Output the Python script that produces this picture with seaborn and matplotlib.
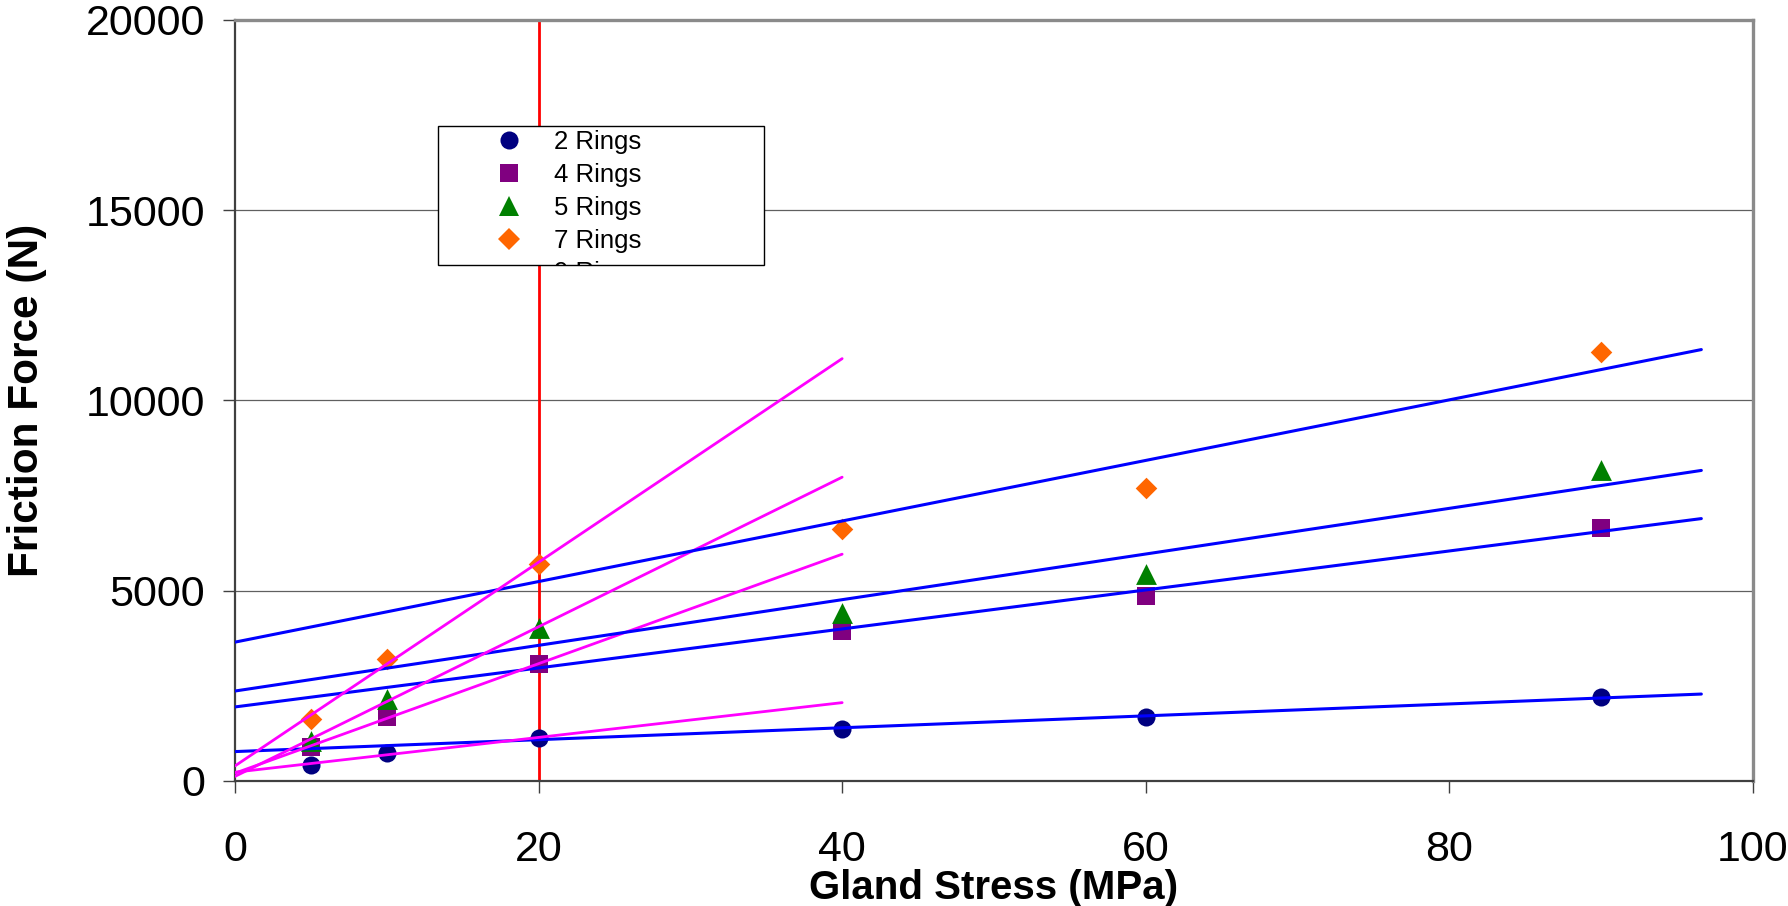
import numpy as np
import pandas as pd
import seaborn as sns
import matplotlib
matplotlib.use("Agg")
import matplotlib.pyplot as plt
from matplotlib.patches import Rectangle
from matplotlib.lines import Line2D
from matplotlib.transforms import Bbox, TransformedBbox

# ---------------- data ----------------
gland_stress = [5, 10, 20, 40, 60, 90]
series_labels = ["2 Rings", "4 Rings", "5 Rings", "7 Rings"]
force_2_rings = [430, 730, 1130, 1360, 1670, 2215]
force_4_rings = [900, 1680, 3070, 3950, 4860, 6660]
force_5_rings = [1060, 2150, 4030, 4425, 5440, 8160]
force_7_rings = [1640, 3210, 5700, 6615, 7710, 11280]
extra_legend_label = "9 Rings"

x_ticks = [0, 20, 40, 60, 80, 100]
y_ticks = [0, 5000, 10000, 15000, 20000]
reference_stress = 20          # red vertical line
split_stress = 20              # low-stress fit uses x <= split, high-stress fit uses x >= split
high_fit_span = [0, 96.6]      # extent of the blue trendlines
low_fit_span = [0, 40]         # extent of the magenta trendlines

# ---------------- styling ----------------
marker_styles = ["o", "s", "^", "D"]
marker_colors = ["#000080", "#800080", "#008000", "#FF6600"]
marker_sizes = [13.0, 12.5, 15.0, 11.0]

sns.set_theme(style="white")
plt.rcParams["font.family"] = ["Liberation Sans", "DejaVu Sans"]
plt.rcParams["text.color"] = "black"
plt.rcParams["axes.labelcolor"] = "black"

fig = plt.figure(figsize=(17.88, 9.06), dpi=100)
ax = fig.add_axes([0.1314, 0.138, 0.849, 0.8401])

ax.set_xlim(x_ticks[0], x_ticks[-1])
ax.set_ylim(y_ticks[0], y_ticks[-1])

# horizontal grid
for yv in y_ticks[1:-1]:
    ax.axhline(yv, color="#606060", lw=0.9, zorder=0.5)

# red reference line
ax.axvline(reference_stress, color="#FF0000", lw=2.0, zorder=1.5)

all_series = [force_2_rings, force_4_rings, force_5_rings, force_7_rings]
x_arr = np.array(gland_stress, dtype=float)

for lab, ys, mk, col, ms in zip(series_labels, all_series, marker_styles,
                                marker_colors, marker_sizes):
    df = pd.DataFrame({"stress": gland_stress, "force": ys})
    sns.scatterplot(data=df, x="stress", y="force", marker=mk, color=col,
                    s=ms ** 2, linewidth=0, ax=ax, zorder=3, legend=False)

for ys in all_series:
    y_arr = np.array(ys, dtype=float)
    hi = x_arr >= split_stress
    lo = x_arr <= split_stress
    c_hi = np.polyfit(x_arr[hi], y_arr[hi], 1)
    c_lo = np.polyfit(x_arr[lo], y_arr[lo], 1)
    xs_hi = np.array(high_fit_span)
    xs_lo = np.array(low_fit_span)
    sns.lineplot(x=xs_hi, y=np.polyval(c_hi, xs_hi), color="#0000FF", lw=2.2,
                 ax=ax, zorder=4, legend=False)
    sns.lineplot(x=xs_lo, y=np.polyval(c_lo, xs_lo), color="#FF00FF", lw=2.0,
                 ax=ax, zorder=4, legend=False)

# ticks
ax.set_xticks(x_ticks)
ax.set_yticks(y_ticks)
ax.set_xticklabels([str(v) for v in x_ticks])
ax.set_yticklabels([str(v) for v in y_ticks])
ax.tick_params(axis="both", direction="out", length=8.6, width=1.0,
               color="#404040", labelsize=31, labelcolor="black")
ax.tick_params(axis="x", pad=27, bottom=True)
ax.tick_params(axis="y", pad=13, left=True)

# spines
for side in ["left", "bottom"]:
    ax.spines[side].set_color("#404040")
    ax.spines[side].set_linewidth(1.6)
for side in ["top", "right"]:
    ax.spines[side].set_color("#8a8a8a")
    ax.spines[side].set_linewidth(2.4)
for sp in ax.spines.values():
    sp.set_visible(True)
    sp.set_zorder(2)

ax.set_xlabel("Gland Stress (MPa)", fontsize=29, fontweight="bold", color="black")
ax.set_ylabel("Friction Force (N)", fontsize=30.5, fontweight="bold", color="black")
ax.xaxis.set_label_coords(0.5, -0.116)
ax.yaxis.set_label_coords(-0.124, 0.5)

# legend box (fixed size, content clipped like the original)
box_x0, box_y0, box_x1, box_y1 = 0.1337, 0.678, 0.3485, 0.8607
frame = Rectangle((box_x0, box_y0), box_x1 - box_x0, box_y1 - box_y0,
                  transform=ax.transAxes, facecolor="white", edgecolor="black",
                  lw=1.0, zorder=5)
ax.add_patch(frame)

handles = [Line2D([], [], ls="none", marker=mk, color=col, markersize=ms,
                  markeredgewidth=0)
           for mk, col, ms in zip(marker_styles, marker_colors, marker_sizes)]
handles.append(Line2D([], [], ls="none", marker="", color="none"))
labels = series_labels + [extra_legend_label]
leg = ax.legend(handles, labels, loc="upper left",
                bbox_to_anchor=(0.1606, 0.8607), frameon=False,
                fontsize=18.5, borderpad=0.175, handlelength=2.0,
                handletextpad=0.75, labelspacing=0.34, borderaxespad=0,
                labelcolor="black")
leg.set_zorder(6)
clip = TransformedBbox(Bbox([[box_x0, box_y0], [box_x1, box_y1]]), ax.transAxes)
for t in leg.get_texts():
    t.set_clip_box(clip)
    t.set_clip_on(True)
for h in leg.legend_handles:
    h.set_clip_box(clip)
    h.set_clip_on(True)

fig.savefig("out.png", dpi=100, facecolor="white")
